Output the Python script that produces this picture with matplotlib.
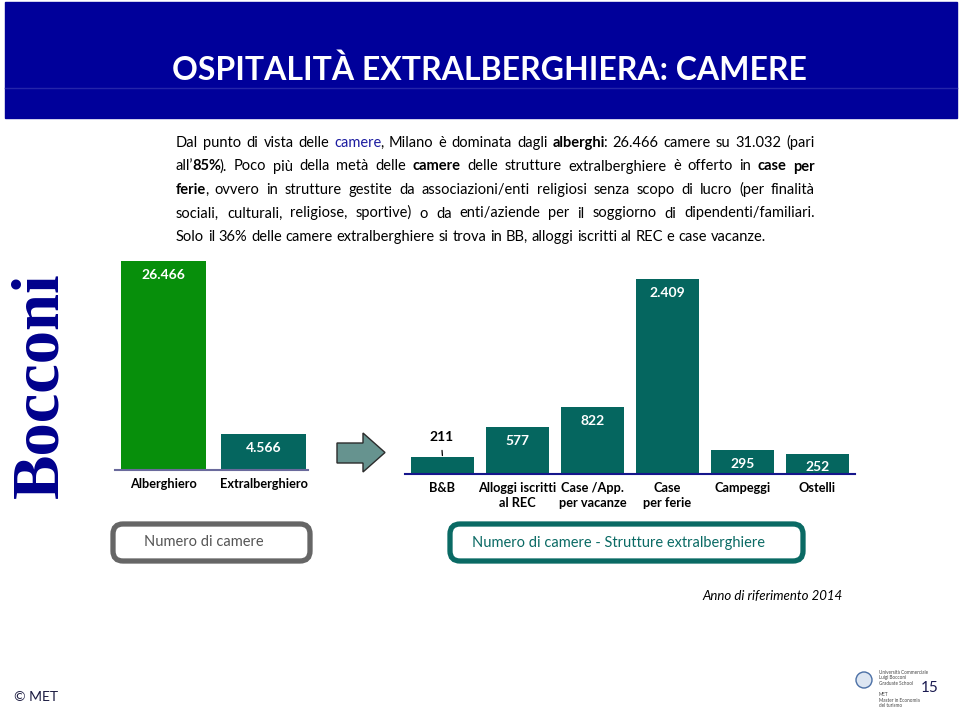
"""Slide: ospitalità extralberghiera a Milano - numero di camere (2014)."""

import matplotlib

matplotlib.use("Agg")
import matplotlib.pyplot as plt
from matplotlib.patches import Rectangle, FancyBboxPatch, Polygon, Circle

# data
tot_labels = ["Alberghiero", "Extralberghiero"]
tot_values = [26466, 4566]

extra_labels = ["B&B", "Alloggi iscritti\nal REC", "Case /App.\nper vacanze",
                "Case\nper ferie", "Campeggi", "Ostelli"]
extra_values = [211, 577, 822, 2409, 295, 252]

GREEN = "#078f0b"
TEAL = "#05665f"
NAVY = "#00009a"
SANS = ["Lato", "DejaVu Sans"]

W, H = 960, 711
fig = plt.figure(figsize=(W / 100, H / 100), dpi=100)
fig.patch.set_facecolor("white")

# background axes in pixel coordinates (y down)
bg = fig.add_axes([0, 0, 1, 1])
bg.set_xlim(0, W)
bg.set_ylim(H, 0)
bg.axis("off")
renderer = fig.canvas.get_renderer()


def px_axes(x0, y0, x1, y1):
    return fig.add_axes([x0 / W, 1 - y1 / H, (x1 - x0) / W, (y1 - y0) / H])


def fmt(v):
    return f"{v:,}".replace(",", ".")


# title banner
bg.add_patch(Rectangle((5, 2), 952, 116, color=NAVY, zorder=0))
bg.plot([5, 957], [88, 88], color="#2424aa", lw=1, zorder=1)
bg.text(489, 70, "OSPITALITÀ EXTRALBERGHIERA: CAMERE", color="white",
        fontsize=23, fontweight="bold", family=SANS, ha="center", va="center")

# paragraph, justified line by line
STYLE = {
    "n": dict(color="black"),
    "b": dict(color="black", fontweight="bold"),
    "c": dict(color="#1c1ca0"),
}

para = [
    (True, [("Dal punto di vista delle ", "n"), ("camere", "c"),
            (", Milano è dominata dagli ", "n"), ("alberghi", "b"),
            (": 26.466 camere su 31.032 (pari", "n")]),
    (True, [("all’", "n"), ("85%", "b"), ("). Poco più della metà delle ", "n"),
            ("camere", "b"), (" delle strutture extralberghiere è offerto in ", "n"),
            ("case per", "b")]),
    (True, [("ferie", "b"), (", ovvero in strutture gestite da associazioni/enti "
                            "religiosi senza scopo di lucro (per finalità", "n")]),
    (True, [("sociali, culturali, religiose, sportive) o da enti/aziende per il "
             "soggiorno di dipendenti/familiari.", "n")]),
    (False, [("Solo il 36% delle camere extralberghiere si trova in BB, alloggi "
              "iscritti al REC e case vacanze.", "n")]),
]


def split_words(pieces):
    words = [[]]
    for txt, sty in pieces:
        for i, part in enumerate(txt.split(" ")):
            if i > 0:
                words.append([])
            if part:
                words[-1].append((part, sty))
    return [w for w in words if w]


def draw_line(pieces, justify, x0, x1, y, size):
    objs, widths = [], []
    for word in split_words(pieces):
        wo, ws = [], []
        for txt, sty in word:
            t = bg.text(0, y, txt, fontsize=size, family=SANS, va="baseline",
                        **STYLE[sty])
            wo.append(t)
            ws.append(t.get_window_extent(renderer).width)
        objs.append(wo)
        widths.append(ws)
    probe = [bg.text(0, 0, s, fontsize=size, family=SANS) for s in ("x x", "xx")]
    space = probe[0].get_window_extent(renderer).width - probe[1].get_window_extent(renderer).width
    for p in probe:
        p.remove()
    total = sum(sum(ws) - 1.5 * (len(ws) - 1) for ws in widths)
    gap = space
    if justify and len(objs) > 1:
        gap = max(2, (x1 - x0 - total) / (len(objs) - 1))
    x = x0
    for wo, ws in zip(objs, widths):
        for k, (t, w) in enumerate(zip(wo, ws)):
            t.set_x(x)
            x += w if k == len(wo) - 1 else w - 1.5
        x += gap


for i, (justify, pieces) in enumerate(para):
    draw_line(pieces, justify, 176, 815, 147 + i * 23.5, 10.5)

# vertical "Bocconi" logo
bg.text(41, 385, "Bocconi", rotation=90, color="#00008c", fontsize=48,
        fontweight="bold", family=["Liberation Serif", "DejaVu Serif"],
        ha="center", va="center")

# left chart: total rooms
ax1 = px_axes(115, 258, 308, 470)
ax1.bar(range(len(tot_values)), tot_values, width=0.85, color=[GREEN, TEAL])
ax1.set_xlim(-0.48, 1.44)
ax1.set_ylim(0, 26850)
for i, v in enumerate(tot_values):
    ax1.annotate(fmt(v), (i, v), xytext=(0, -10), textcoords="offset points",
                 ha="center", va="center", color="white", fontsize=10,
                 fontweight="bold", family=SANS)

# right chart: extra-hotel breakdown
ax2 = px_axes(405, 270, 855, 474)
ax2.bar(range(len(extra_values)), extra_values, width=0.84, color=TEAL)
ax2.set_xlim(-0.5, 5.5)
ax2.set_ylim(0, 2520)
for i, v in enumerate(extra_values):
    if i == 0:
        ax2.annotate(fmt(v), (i, v), xytext=(-1, 14), textcoords="offset points",
                     ha="center", va="center", color="black", fontsize=10,
                     fontweight="bold", family=SANS,
                     arrowprops=dict(arrowstyle="-", lw=0.9, color="black",
                                     shrinkA=3, shrinkB=1))
    else:
        ax2.annotate(fmt(v), (i, v), xytext=(0, -10), textcoords="offset points",
                     ha="center", va="center", color="white", fontsize=10,
                     fontweight="bold", family=SANS)

for ax, labels, line_col in ((ax1, tot_labels, "#6a6a9c"), (ax2, extra_labels, "#16168c")):
    ax.set_facecolor("none")
    for s in ("top", "right", "left"):
        ax.spines[s].set_visible(False)
    ax.spines["bottom"].set_color(line_col)
    ax.spines["bottom"].set_linewidth(1.5)
    ax.set_yticks([])
    ax.set_xticks(range(len(labels)))
    ax.set_xticklabels(labels, fontsize=9.2, fontweight="bold", family=SANS,
                       linespacing=1.25)
    ax.tick_params(axis="x", length=0, pad=6)

# arrow between the charts
bg.add_patch(Polygon([(337, 443), (363, 443), (363, 433), (385, 452.5),
                      (363, 472), (363, 463), (337, 463)],
                     closed=True, facecolor="#66938f", edgecolor="#2b2b2b", lw=1))

# caption boxes
for (x0, x1, col, txt_col, txt) in (
        (113, 310, "#666666", "#555555", "Numero di camere"),
        (450, 803, "#0a6a64", "#0a6a64", "Numero di camere - Strutture extralberghiere")):
    bg.add_patch(FancyBboxPatch((x0, 524), x1 - x0, 37,
                                boxstyle="round,pad=0,rounding_size=10",
                                facecolor="white", edgecolor=col, lw=3.8))
    bg.text((x0 + x1) / 2 - 8, 542.5, txt, color=txt_col, fontsize=10.5,
            family=SANS, ha="center", va="center")

bg.text(843, 596, "Anno di riferimento 2014", fontsize=9.5, style="italic",
        family=SANS, ha="right", va="center")

# footer
bg.text(14, 697, "© MET", fontsize=10, color="#1a1a40", family=SANS, va="center")
bg.add_patch(Circle((864, 680), 8, facecolor="#dde6f2", edgecolor="#4a6fa5", lw=1))
for j, line in enumerate(["Università Commerciale", "Luigi Bocconi", "Graduate School",
                          "", "MET", "Master in Economia", "del turismo"]):
    bg.text(879, 672 + j * 5.6, line, fontsize=3.3, color="#444444",
            family=SANS, va="center")
bg.text(921, 688, "15", fontsize=11, color="#1a1a50", family=SANS, va="center")

fig.savefig("out.png", dpi=100)
